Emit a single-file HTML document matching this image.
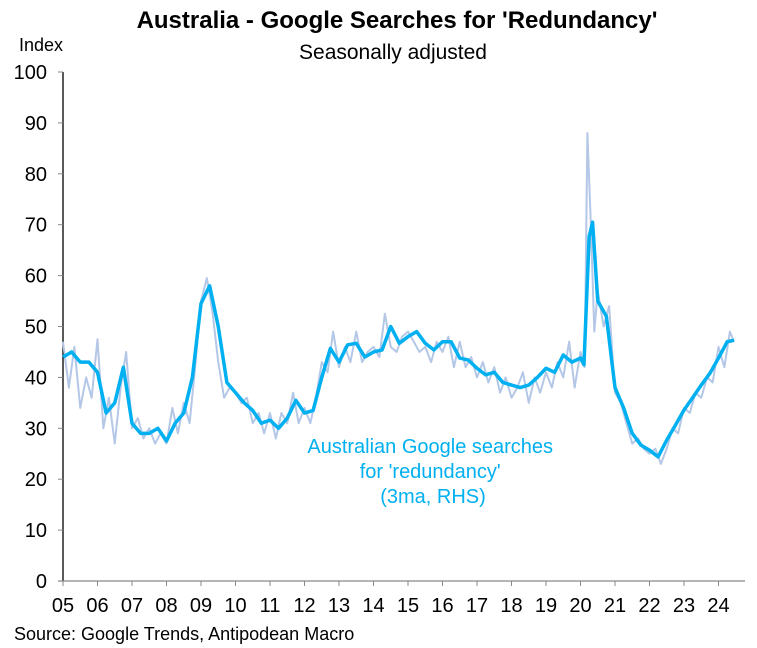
<!DOCTYPE html>
<html><head><meta charset="utf-8"><style>
body{margin:0;background:#fff;}
svg{display:block;font-family:"Liberation Sans",Arial,sans-serif;}
</style></head><body>
<svg id="chart" width="757" height="648" viewBox="0 0 757 648">
<text x="397" y="28" text-anchor="middle" font-size="24" font-weight="bold">Australia - Google Searches for 'Redundancy'</text>
<text x="393" y="59" text-anchor="middle" font-size="21">Seasonally adjusted</text>
<text x="41" y="51" text-anchor="middle" font-size="18">Index</text>
<text x="14" y="640" font-size="18">Source: Google Trends, Antipodean Macro</text>
<g id="axes"></g>
<g id="series"></g>
<text fill="#00B0F0" font-size="20" text-anchor="middle">
<tspan x="433" y="453">Australian Google searches</tspan>
<tspan x="433" y="478">for 'redundancy'</tspan>
<tspan x="433" y="503">(3ma, RHS)</tspan>
</text>
</svg>
<script>
const dates=[2005,2005.25,2005.5,2005.75,2006,2006.25,2006.5,2006.75,2007,2007.25,2007.5,2007.75,2008,2008.25,2008.5,2008.75,2009,2009.25,2009.5,2009.75,2010,2010.25,2010.5,2010.75,2011,2011.25,2011.5,2011.75,2012,2012.25,2012.5,2012.75,2013,2013.25,2013.5,2013.75,2014,2014.25,2014.5,2014.75,2015,2015.25,2015.5,2015.75,2016,2016.25,2016.5,2016.75,2017,2017.25,2017.5,2017.75,2018,2018.25,2018.5,2018.75,2019,2019.25,2019.5,2019.75,2020,2020.1,2020.25,2020.35,2020.5,2020.75,2021,2021.25,2021.5,2021.75,2022,2022.25,2022.5,2022.75,2023,2023.25,2023.5,2023.75,2024,2024.25,2024.45];
const ma3=[44,45,43,43,41,33,35,42,31,29,29,30,27.5,31,33,40,54.5,58,50,39,37,35,33.5,31,31.6,30,32,35.5,33,33.5,40,45.7,43,46.4,46.7,44,45,45.4,50,46.7,48,49,46.7,45.4,47,47,43.8,43.4,41.8,40.5,41,39,38.5,38,38.5,40,41.8,41,44.4,43,43.8,42.5,67.6,70.5,55,52,38,34,29,26.7,25.7,24.4,27.7,30.6,33.6,36,38.5,40.8,43.8,47,47.3];
const rawDates=[2005,2005.17,2005.33,2005.5,2005.67,2005.83,2006,2006.17,2006.33,2006.5,2006.67,2006.83,2007,2007.17,2007.33,2007.5,2007.67,2007.83,2008,2008.17,2008.33,2008.5,2008.67,2008.83,2009,2009.17,2009.33,2009.5,2009.67,2009.83,2010,2010.17,2010.33,2010.5,2010.67,2010.83,2011,2011.17,2011.33,2011.5,2011.67,2011.83,2012,2012.17,2012.33,2012.5,2012.67,2012.83,2013,2013.17,2013.33,2013.5,2013.67,2013.83,2014,2014.17,2014.33,2014.5,2014.67,2014.83,2015,2015.17,2015.33,2015.5,2015.67,2015.83,2016,2016.17,2016.33,2016.5,2016.67,2016.83,2017,2017.17,2017.33,2017.5,2017.67,2017.83,2018,2018.17,2018.33,2018.5,2018.67,2018.83,2019,2019.17,2019.33,2019.5,2019.67,2019.83,2020,2020.12,2020.2,2020.3,2020.4,2020.5,2020.67,2020.83,2021,2021.17,2021.33,2021.5,2021.67,2021.83,2022,2022.17,2022.33,2022.5,2022.67,2022.83,2023,2023.17,2023.33,2023.5,2023.67,2023.83,2024,2024.17,2024.33,2024.45];
const raw=[47,38,46,34,40,36,47.5,30,36,27,38,45,30,32,28,30,27,29,27,34,29,35,31,42,55,59.5,53,43,36,38,37,35,36,31,33,29,33,28,33,31,37,31,34,31,36,43,41,49,42,46,43,49,43,45,46,44,52.5,46,45,48,49,47,45,46,43,47,45,48,42,47,42,44,40,43,39,42,37,40,36,38,41,35,40,37,41,38,43,40,47,38,45,42,88,70,49,57,50,54,37,35,31,27,28,26,25,26,23,26,30,29,34,33,37,36,40,39,46,42,49,47];
const yTicks=[0,10,20,30,40,50,60,70,80,90,100];
const xLabels=['05','06','07','08','09','10','11','12','13','14','15','16','17','18','19','20','21','22','23','24'];
const NS='http://www.w3.org/2000/svg';
const X0=63,YEARW=34.5,Y0=581,PX=5.09;
const xs=d=>X0+(d-2005)*YEARW;
const ys=v=>Y0-v*PX;
const axes=document.getElementById('axes'),series=document.getElementById('series');
function mk(t,a,p){const e=document.createElementNS(NS,t);for(const k in a)e.setAttribute(k,a[k]);p.appendChild(e);return e;}
let yl=mk('line',{x1:X0,x2:X0,y1:ys(100),y2:Y0,stroke:'#000','stroke-width':1.3},axes);


yTicks.forEach(v=>{
  let t=mk('line',{x1:X0-5,x2:X0,y1:ys(v),y2:ys(v),stroke:'#888'},axes);
  
  
  let l=mk('text',{x:X0-16,y:ys(v)+7,'text-anchor':'end','font-size':20},axes);
  l.textContent=v;
  
  
});
let xl=mk('line',{x1:X0-5,x2:745,y1:Y0,y2:Y0,stroke:'#888','stroke-width':1.3},axes);


xLabels.forEach((s,i)=>{
  const x=xs(2005+i);
  let t=mk('line',{x1:x,x2:x,y1:Y0,y2:Y0+5,stroke:'#888'},axes);
  
  
  let l=mk('text',{x:x,y:Y0+31,'text-anchor':'middle','font-size':20},axes);
  l.textContent=s;
  
  
});
const pr=mk('polyline',{points:rawDates.map((d,i)=>xs(d)+','+ys(raw[i])).join(' '),fill:'none',stroke:'#B4C7E7','stroke-width':2,'stroke-linejoin':'round'},series);


const pm=mk('polyline',{points:dates.map((d,i)=>xs(d)+','+ys(ma3[i])).join(' '),fill:'none',stroke:'#00B0F0','stroke-width':3.5,'stroke-linejoin':'round'},series);


</script>
</body></html>
